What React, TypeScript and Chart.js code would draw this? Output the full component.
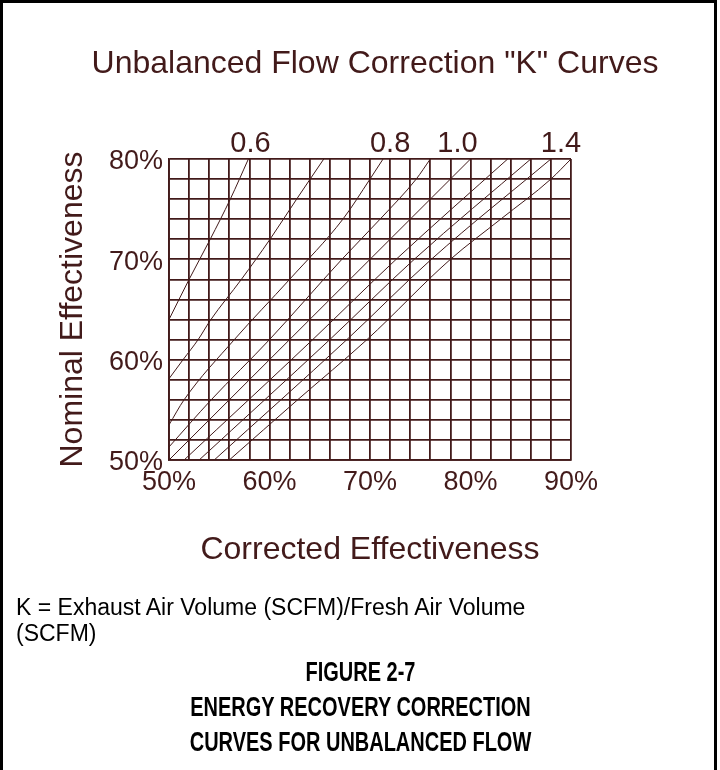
import React, { useEffect, useRef } from "react";
import { Chart, registerables } from "chart.js";

Chart.register(...registerables);

// ---- data (corrected %, nominal %) ----
const k06: [number, number][] = [[50, 64], [52, 68], [54.1, 72], [56.1, 76], [57.9, 80]];
const k07: [number, number][] = [[50, 58.1], [51.4, 60], [52.9, 62], [54.1, 63.9], [57.2, 68], [60.05, 72], [62.7, 76], [65.4, 80]];
const k08: [number, number][] = [[50, 53.5], [51.5, 56], [56.5, 62], [62, 68], [67.3, 74], [70, 78], [71.3, 80]];
const k09: [number, number][] = [[50, 51.3], [54.2, 56], [60, 62], [67.2, 70], [71, 74], [74.6, 78], [76, 80]];
const k10: [number, number][] = [[50, 50], [80, 80]];
const k11: [number, number][] = [[51.5, 50], [64.3, 62], [72.6, 70], [83.7, 80]];
const k12: [number, number][] = [[53, 50], [66, 62], [74.4, 70], [86, 80]];
const k13: [number, number][] = [[54.5, 50], [67.7, 62], [76.1, 70], [88, 80]];
const k14: [number, number][] = [[56, 50], [62.8, 56], [69.7, 62], [78, 70], [83, 74], [88, 78], [90, 80]];

const curves = [k06, k07, k08, k09, k10, k11, k12, k13, k14];

const kLabels = ["0.6", "0.8", "1.0", "1.4"];
const kLabelAt = [58.1, 72, 78.7, 89];

const xLabelValues = [50, 60, 70, 80, 90];
const yLabelValues = [50, 60, 70, 80];

const chartTitle = 'Unbalanced Flow Correction "K" Curves';
const xTitle = "Corrected Effectiveness";
const yTitle = "Nominal Effectiveness";
const noteText = "K = Exhaust Air Volume (SCFM)/Fresh Air Volume (SCFM)";
const figureLines = ["FIGURE 2-7", "ENERGY RECOVERY CORRECTION", "CURVES FOR UNBALANCED FLOW"];

const INK = "#421a1a";
const FONT = "'Liberation Sans', Arial, sans-serif";

export default function App() {
  const ref = useRef<HTMLCanvasElement | null>(null);

  useEffect(() => {
    document.body.style.margin = "0";
    const canvas = ref.current;
    if (!canvas) return;
    const chart = new Chart(canvas, {
      type: "scatter",
      data: {
        datasets: curves.map((c, i) => ({
          label: "K" + i,
          data: c.map(([x, y]) => ({ x, y })),
          showLine: true,
          borderColor: INK,
          borderWidth: 1,
          pointRadius: 0,
          cubicInterpolationMode: "monotone" as const,
          xAxisID: "x",
          yAxisID: "y",
        })),
      },
      options: {
        responsive: false,
        animation: false,
        events: [],
        layout: { padding: { left: 40, right: 149, top: 91, bottom: 200 } },
        plugins: {
          legend: { display: false },
          tooltip: { enabled: false },
          title: { display: false },
        },
        scales: {
          x: {
            type: "linear",
            position: "bottom",
            min: 50,
            max: 90,
            afterFit: (s: any) => { s.height = 110; },
            afterBuildTicks: (s: any) => {
              const t = [];
              for (let v = 50; v <= 90; v += 2) t.push({ value: v });
              s.ticks = t;
            },
            ticks: {
              autoSkip: false,
              maxRotation: 0,
              padding: 6,
              color: INK,
              font: { family: FONT, size: 27 },
              callback: (v: any) => (xLabelValues.includes(Number(v)) ? v + "%" : ""),
            },
            grid: { color: INK, lineWidth: 1.8, drawTicks: false },
            border: { color: INK, width: 1.8 },
            title: {
              display: true,
              text: xTitle,
              color: INK,
              font: { family: FONT, size: 32 },
              padding: { top: 0, bottom: 1 },
            },
          },
          xTop: {
            type: "linear",
            position: "top",
            min: 50,
            max: 90,
            afterFit: (s: any) => { s.height = 68; },
            afterBuildTicks: (s: any) => { s.ticks = kLabelAt.map((v) => ({ value: v })); },
            ticks: {
              autoSkip: false,
              maxRotation: 0,
              padding: -2,
              color: INK,
              font: { family: FONT, size: 29 },
              callback: (_v: any, i: number) => kLabels[i],
            },
            grid: { display: false, drawTicks: false },
            border: { display: false },
          },
          y: {
            type: "linear",
            position: "left",
            min: 50,
            max: 80,
            afterFit: (s: any) => { s.width = 129; },
            afterBuildTicks: (s: any) => {
              const t = [];
              for (let v = 50; v <= 80; v += 2) t.push({ value: v });
              s.ticks = t;
            },
            ticks: {
              autoSkip: false,
              padding: 6,
              labelOffset: 3,
              color: INK,
              font: { family: FONT, size: 27 },
              callback: (v: any) => (yLabelValues.includes(Number(v)) ? v + "%" : ""),
            },
            grid: { color: INK, lineWidth: 1.8, drawTicks: false },
            border: { color: INK, width: 1.8 },
            title: {
              display: true,
              text: yTitle,
              color: INK,
              font: { family: FONT, size: 32 },
              padding: { top: 14, bottom: 0 },
            },
          },
        },
      },
    });
    return () => chart.destroy();
  }, []);

  return (
    <div style={{ position: "fixed", left: 0, top: 0, width: 720, height: 770, overflow: "hidden", background: "#fff" }}>
      <div
        style={{
          position: "absolute",
          left: 0,
          top: 0,
          width: 711,
          height: 800,
          borderLeft: "3px solid #000",
          borderTop: "3px solid #000",
          borderRight: "3px solid #000",
        }}
      />
      <canvas ref={ref} width={720} height={770} style={{ position: "absolute", left: 0, top: 0, width: 720, height: 770 }} />
      <div
        style={{
          position: "absolute",
          left: 0,
          top: 42,
          width: 750,
          textAlign: "center",
          fontFamily: FONT,
          fontSize: 32,
          lineHeight: "40px",
          color: INK,
          whiteSpace: "nowrap",
        }}
      >
        {chartTitle}
      </div>
      <div
        style={{
          position: "absolute",
          left: 16,
          top: 594,
          width: 560,
          fontFamily: FONT,
          fontSize: 23,
          lineHeight: "26px",
          color: "#000",
        }}
      >
        {noteText}
      </div>
      <div
        style={{
          position: "absolute",
          left: 0,
          top: 655,
          width: 720,
          textAlign: "center",
          fontFamily: FONT,
          fontWeight: "bold",
          fontSize: 27,
          lineHeight: "35px",
          color: "#000",
          transform: "scaleX(0.74)",
          transformOrigin: "362px 0",
        }}
      >
        {figureLines.map((t) => (
          <div key={t}>{t}</div>
        ))}
      </div>
    </div>
  );
}
